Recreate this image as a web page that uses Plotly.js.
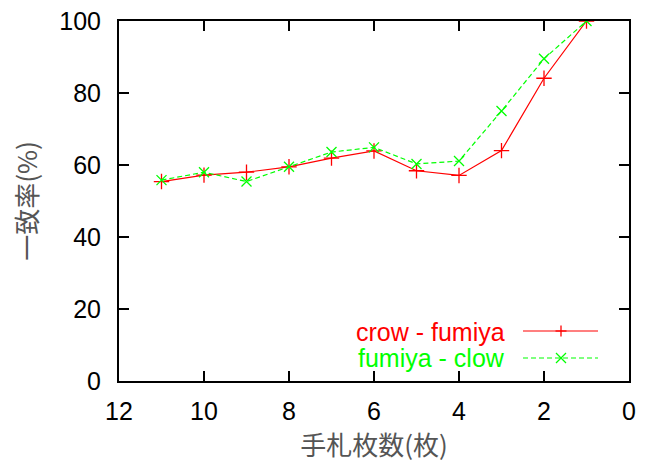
<!DOCTYPE html>
<html>
<head>
<meta charset="utf-8">
<script src="https://cdn.plot.ly/plotly-3.0.1.min.js"></script>
<style>html,body{margin:0;padding:0;background:#fff;}#chart{width:651px;height:462px;}</style>
</head>
<body>
<div id="chart"></div>
<script>
var handCards = [11, 10, 9, 8, 7, 6, 5, 4, 3, 2, 1];
var crowFumiya = [55.4, 57.2, 58.0, 59.5, 61.9, 63.9, 58.4, 57.1, 64.0, 84.1, 100];
var fumiyaClow = [55.8, 58.0, 55.4, 59.5, 63.6, 64.9, 60.3, 61.1, 75.0, 89.5, 100];
var seriesNames = ["crow - fumiya", "fumiya - clow"];
var xTicks = [12, 10, 8, 6, 4, 2, 0];
var yTicks = [0, 20, 40, 60, 80, 100];

var red = "#ff0000", green = "#00ff00";
var traces = [
  {x: handCards, y: crowFumiya, name: seriesNames[0], type: "scatter", mode: "lines+markers",
   line: {color: red, width: 1.2}, marker: {symbol: "cross-thin-open", size: 11, line: {color: red, width: 1.3}, color: red}},
  {x: handCards, y: fumiyaClow, name: seriesNames[1], type: "scatter", mode: "lines+markers",
   line: {color: green, width: 1.2, dash: "5px,3px"}, marker: {symbol: "x-thin-open", size: 10, line: {color: green, width: 1.3}, color: green}}
];

var axisCommon = {
  showgrid: false, zeroline: false, showline: true, linecolor: "#000", linewidth: 2,
  mirror: "ticks", ticks: "inside", ticklen: 10, tickwidth: 2, tickcolor: "#000",
  tickfont: {family: "Liberation Sans, Arial, sans-serif", size: 25, color: "#000"}
};

var layout = {
  width: 651, height: 462,
  margin: {l: 119, r: 22, t: 21, b: 81},
  paper_bgcolor: "#fff", plot_bgcolor: "#fff",
  showlegend: false,
  xaxis: Object.assign({}, axisCommon, {
    range: [12, 0], tickmode: "array", tickvals: xTicks, ticktext: xTicks.map(String),
    ticklabelstandoff: 7,
    title: {text: "手札枚数(枚)", font: {family: "Noto Sans CJK JP", size: 26, color: "#555"}, standoff: 15}
  }),
  yaxis: Object.assign({}, axisCommon, {
    range: [0, 100], tickmode: "array", tickvals: yTicks, ticktext: yTicks.map(String),
    ticklabelstandoff: 11,
    title: {text: "一致率(%)", font: {family: "Noto Sans CJK JP", size: 26, color: "#555"}, standoff: 14}
  }),
  annotations: [
    {xref: "paper", yref: "paper", x: (507 - 119) / 510, y: (381 - 332) / 360, xanchor: "right", yanchor: "middle",
     text: seriesNames[0], showarrow: false, font: {family: "Liberation Sans, Arial, sans-serif", size: 25, color: red}},
    {xref: "paper", yref: "paper", x: (507 - 119) / 510, y: (381 - 358) / 360, xanchor: "right", yanchor: "middle",
     text: seriesNames[1], showarrow: false, font: {family: "Liberation Sans, Arial, sans-serif", size: 25, color: green}}
  ],
  shapes: [
    {type: "line", xref: "paper", yref: "paper", x0: (523 - 119) / 510, x1: (598 - 119) / 510, y0: (381 - 331) / 360, y1: (381 - 331) / 360, line: {color: red, width: 1.2}},
    {type: "line", xref: "paper", yref: "paper", x0: (561 - 119) / 510, x1: (561 - 119) / 510, y0: (381 - 336.5) / 360, y1: (381 - 325.5) / 360, line: {color: red, width: 1.3}},
    {type: "line", xref: "paper", yref: "paper", x0: (555.5 - 119) / 510, x1: (566.5 - 119) / 510, y0: (381 - 331) / 360, y1: (381 - 331) / 360, line: {color: red, width: 1.3}},
    {type: "line", xref: "paper", yref: "paper", x0: (523 - 119) / 510, x1: (598 - 119) / 510, y0: (381 - 358) / 360, y1: (381 - 358) / 360, line: {color: green, width: 1.2, dash: "5px,3px"}},
    {type: "line", xref: "paper", yref: "paper", x0: (556 - 119) / 510, x1: (566 - 119) / 510, y0: (381 - 353) / 360, y1: (381 - 363) / 360, line: {color: green, width: 1.3}},
    {type: "line", xref: "paper", yref: "paper", x0: (556 - 119) / 510, x1: (566 - 119) / 510, y0: (381 - 363) / 360, y1: (381 - 353) / 360, line: {color: green, width: 1.3}}
  ]
};

Plotly.newPlot("chart", traces, layout, {staticPlot: true, displayModeBar: false});
</script>
</body>
</html>
